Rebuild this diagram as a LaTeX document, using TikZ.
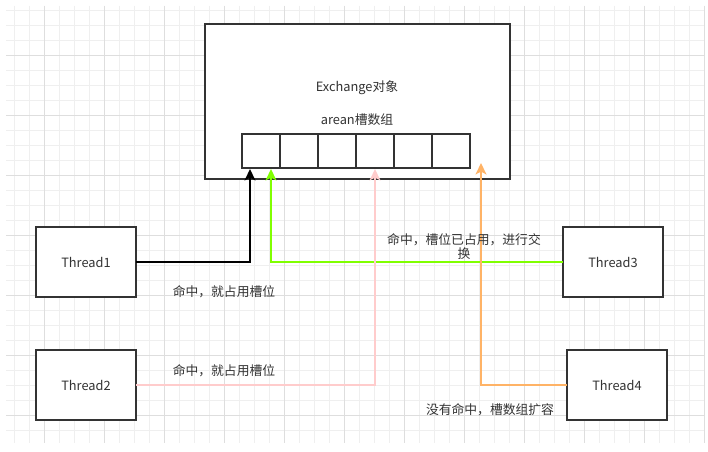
\documentclass[tikz,border=0pt]{standalone}
\usepackage{fontspec}
\setmainfont{Noto Sans CJK SC}
\usepackage{tikz}
\usetikzlibrary{arrows.meta, positioning}
\usepackage{xcolor}
\definecolor{txtgray}{HTML}{333333}
\definecolor{gridminor}{HTML}{EFEFEF}
\definecolor{gridmajor}{HTML}{DEDEDE}
\definecolor{hitgreen}{HTML}{80FF00}
\definecolor{hitpink}{HTML}{FFCCCC}
\definecolor{groworange}{HTML}{FFB366}

\tikzset{
  box/.style={draw=txtgray, line width=1.5pt, fill=white, text=txtgray, inner sep=0pt, outer sep=0pt},
  threadbox/.style={box, minimum width=75pt, minimum height=52.5pt},
  slotbox/.style={box, minimum width=28.5pt, minimum height=25.5pt},
  label/.style={text=txtgray, inner sep=0pt, align=center},
  link/.style={line width=1.5pt, -{Stealth[length=8.5pt, width=8pt, inset=2pt]}},
}

\begin{document}
\begin{tikzpicture}[x=0.75pt, y=-0.75pt, font=\fontsize{9.6pt}{10.5pt}\selectfont]
    \useasboundingbox[fill=white] (0,0) rectangle (708,452);
    % grid
    \foreach \gx in {14.7,29.7,...,705} \draw[gridminor, line width=0.75pt] (\gx,6) -- (\gx,443);
    \foreach \gy in {11,26,...,440} \draw[gridminor, line width=0.75pt] (6,\gy) -- (705,\gy);
    \foreach \gx in {44.7,104.7,...,705} \draw[gridmajor, line width=0.75pt] (\gx,6) -- (\gx,443);
    \foreach \gy in {56,116,...,440} \draw[gridmajor, line width=0.75pt] (6,\gy) -- (705,\gy);

    \node[box, minimum width=228.75pt, minimum height=116.25pt] (exchange) at (357.5,102) {};
    \node[label] (title) at (357,88) {Exchange对象};
    \node[label] (arena) at (357,120) {arean槽数组};
    \foreach \i in {1,...,6}
      \node[slotbox] (slot\i) at ({222.7+38*\i},151) {};

    \node[threadbox] (t1) at (86,262) {Thread1};
    \node[threadbox] (t2) at (86,385) {Thread2};
    \node[threadbox] (t3) at (613,262) {Thread3};
    \node[threadbox] (t4) at (617,385) {Thread4};

    \coordinate (hit1) at (250,169);
    \coordinate (hit3) at (271,169);
    \coordinate (hit2) at (375,169);
    \coordinate (grow) at (481,163);

    \draw[link, black] (t1.east) -| (hit1);
    \draw[link, hitgreen] (t3.west) -| (hit3);
    \draw[link, hitpink] (t2.east) -| (hit2);
    \draw[link, groworange] (t4.west) -| (grow);

    \node[label] (lbl1) at (224,292) {命中，就占用槽位};
    \node[label] (lbl3) at (464,247) {命中，槽位已占用，进行交\\换};
    \node[label] (lbl2) at (224,371) {命中，就占用槽位};
    \node[label] (lbl4) at (490,410) {没有命中，槽数组扩容};
\end{tikzpicture}
\end{document}
